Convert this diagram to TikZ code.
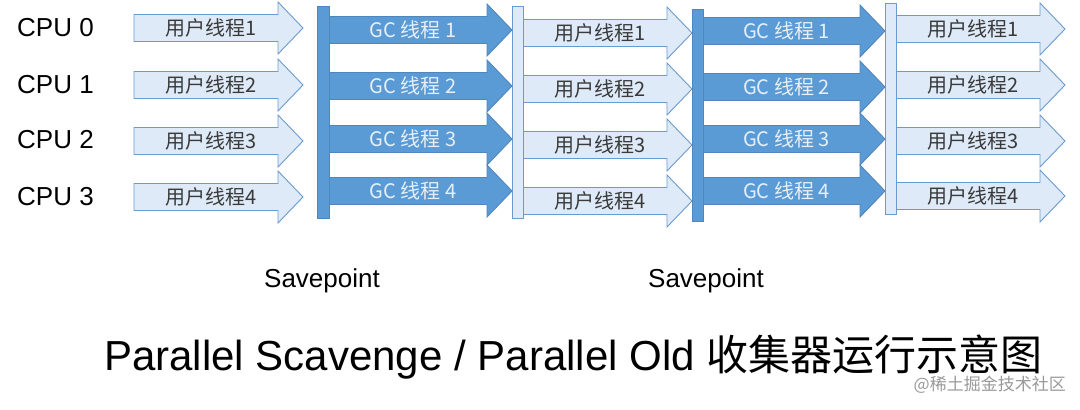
\documentclass[tikz,border=0pt]{standalone}
\usepackage{fontspec}
\setmainfont{Liberation Sans}
\newfontfamily\cjk{Noto Sans CJK SC}
\definecolor{ufill}{HTML}{DEEAF7}
\definecolor{uedge}{HTML}{6A9BD0}
\definecolor{gfill}{HTML}{5B9BD5}
\definecolor{gedge}{HTML}{4F86BE}
\definecolor{utext}{HTML}{3A3A3A}
\definecolor{gtext}{HTML}{E6EFF9}
\tikzset{
  userarrow/.style={fill=ufill,draw=uedge,line width=0.9pt,line join=miter},
  gcarrow/.style={fill=gfill,draw=gedge,line width=0.9pt,line join=miter},
  darkbar/.style={fill=gfill,draw=gedge,line width=0.9pt},
  lightbar/.style={fill=ufill,draw=uedge,line width=0.9pt},
  ulabel/.style={font=\cjk\fontsize{20}{22}\selectfont,text=utext,inner sep=0pt},
  glabel/.style={font=\cjk\fontsize{20}{22}\selectfont,text=gtext,inner sep=0pt},
  cpulabel/.style={font=\fontsize{26}{28}\selectfont,anchor=west,inner sep=0pt},
  savelabel/.style={font=\fontsize{26}{28}\selectfont,inner sep=0pt},
}
% #1 left x, #2 tip x, #3 centre y, #4 style, #5 label style, #6 text, #7 name
\newcommand\flowarrow[7]{%
  \draw[#4] (#1,{#3-13.5}) -- ({#2-25},{#3-13.5}) -- ({#2-25},{#3-26}) -- (#2,#3)
    -- ({#2-25},{#3+26}) -- ({#2-25},{#3+13.5}) -- (#1,{#3+13.5}) -- cycle;
  \node[#5] (#7) at ({(#1+#2-25)/2+5},#3) {#6};%
}
\begin{document}
\begin{tikzpicture}[x=1pt,y=-1pt]
\useasboundingbox (0,0) rectangle (1080,410);
% CPU labels
\node[cpulabel] (cpu0) at (17,28) {CPU 0};
\node[cpulabel] (cpu1) at (17,85) {CPU 1};
\node[cpulabel] (cpu2) at (17,140) {CPU 2};
\node[cpulabel] (cpu3) at (17,197) {CPU 3};
% column A: user threads
\flowarrow{134}{303}{28}{userarrow}{ulabel}{用户线程1}{a1}
\flowarrow{134}{303}{85}{userarrow}{ulabel}{用户线程2}{a2}
\flowarrow{134}{303}{141}{userarrow}{ulabel}{用户线程3}{a3}
\flowarrow{134}{303}{197}{userarrow}{ulabel}{用户线程4}{a4}
% column B: GC threads
\flowarrow{329}{512}{30}{gcarrow}{glabel}{GC 线程 1}{b1}
\flowarrow{329}{512}{86}{gcarrow}{glabel}{GC 线程 2}{b2}
\flowarrow{329}{512}{139}{gcarrow}{glabel}{GC 线程 3}{b3}
\flowarrow{329}{512}{191}{gcarrow}{glabel}{GC 线程 4}{b4}
% column C: user threads
\flowarrow{523}{692}{33}{userarrow}{ulabel}{用户线程1}{c1}
\flowarrow{523}{692}{89}{userarrow}{ulabel}{用户线程2}{c2}
\flowarrow{523}{692}{145}{userarrow}{ulabel}{用户线程3}{c3}
\flowarrow{523}{692}{201}{userarrow}{ulabel}{用户线程4}{c4}
% column D: GC threads
\flowarrow{703}{885}{31}{gcarrow}{glabel}{GC 线程 1}{d1}
\flowarrow{703}{885}{87}{gcarrow}{glabel}{GC 线程 2}{d2}
\flowarrow{703}{885}{139}{gcarrow}{glabel}{GC 线程 3}{d3}
\flowarrow{703}{885}{191}{gcarrow}{glabel}{GC 线程 4}{d4}
% column E: user threads
\flowarrow{896}{1065}{29}{userarrow}{ulabel}{用户线程1}{e1}
\flowarrow{896}{1065}{85}{userarrow}{ulabel}{用户线程2}{e2}
\flowarrow{896}{1065}{141}{userarrow}{ulabel}{用户线程3}{e3}
\flowarrow{896}{1065}{196}{userarrow}{ulabel}{用户线程4}{e4}
% bars
\draw[darkbar] (317,6) rectangle (329,218);
\draw[lightbar] (512,6) rectangle (523,218);
\draw[darkbar] (692,9) rectangle (703,221);
\draw[lightbar] (885,3) rectangle (896,214);
% savepoint labels
\node[savelabel] (sp1) at (322,281) {Savepoint};
\node[savelabel] (sp2) at (706,281) {Savepoint};
% title
\node[anchor=west,inner sep=0pt] (title) at (104,357)
  {\fontsize{42}{46}\selectfont Parallel Scavenge / Parallel Old {\cjk\fontsize{42}{46}\selectfont 收集器运行示意图}};
\node[anchor=east,inner sep=0pt,text=gray!80,font=\cjk\fontsize{17}{19}\selectfont] (wm) at (1066,385) {@稀土掘金技术社区};
\end{tikzpicture}
\end{document}
